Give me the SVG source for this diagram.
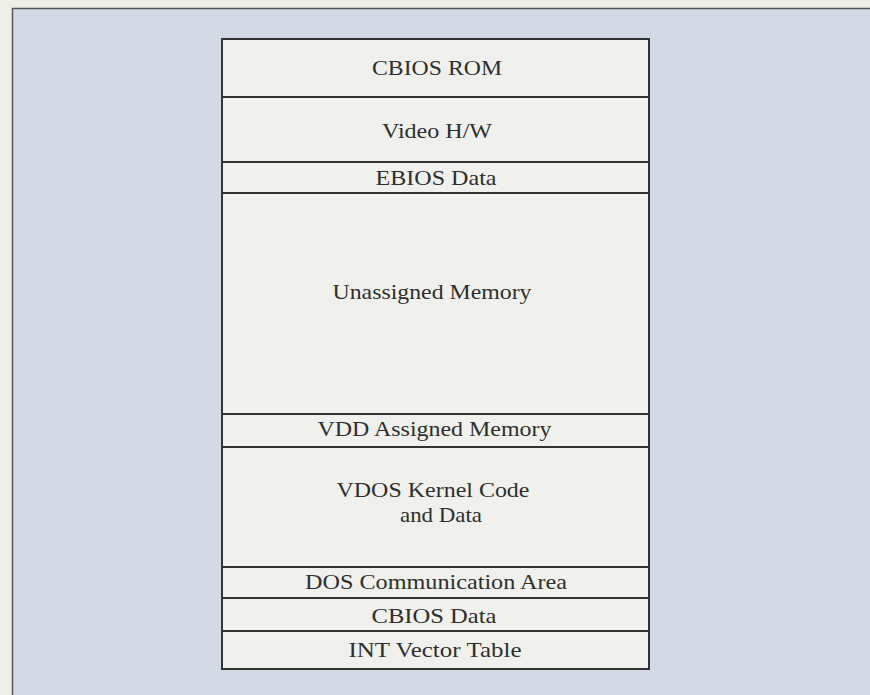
<svg xmlns="http://www.w3.org/2000/svg" width="870" height="695" viewBox="0 0 870 695">
<style>
.cell{fill:#f0f1ec;stroke:#333;stroke-width:2}
.lbl{font-family:"Liberation Serif","Times New Roman",serif;font-size:22px;fill:#2e2e2e;text-anchor:middle}
.sep{stroke:#333;stroke-width:2}
</style>
<rect x="0" y="0" width="870" height="695" fill="#eef0e7"/>
<rect x="12.5" y="8.5" width="870" height="700" fill="#d4d9e6" stroke="#555" stroke-width="1.5"/>
<g id="stack">
<rect class="cell" x="222" y="39" width="427" height="630"/>
</g>
<g id="connectors">
<line class="sep" x1="222" y1="97" x2="649" y2="97"/>
<line class="sep" x1="222" y1="162" x2="649" y2="162"/>
<line class="sep" x1="222" y1="193" x2="649" y2="193"/>
<line class="sep" x1="222" y1="414" x2="649" y2="414"/>
<line class="sep" x1="222" y1="447" x2="649" y2="447"/>
<line class="sep" x1="222" y1="567" x2="649" y2="567"/>
<line class="sep" x1="222" y1="598" x2="649" y2="598"/>
<line class="sep" x1="222" y1="631" x2="649" y2="631"/>
</g>
<g id="cbios-rom"><text class="lbl" x="437" y="75" textLength="130" lengthAdjust="spacingAndGlyphs">CBIOS ROM</text></g>
<g id="video-hw"><text class="lbl" x="437" y="138" textLength="110" lengthAdjust="spacingAndGlyphs">Video H/W</text></g>
<g id="ebios-data"><text class="lbl" x="436" y="185" textLength="121" lengthAdjust="spacingAndGlyphs">EBIOS Data</text></g>
<g id="unassigned"><text class="lbl" x="432" y="299" textLength="199" lengthAdjust="spacingAndGlyphs">Unassigned Memory</text></g>
<g id="vdd-assigned"><text class="lbl" x="434.5" y="436" textLength="234" lengthAdjust="spacingAndGlyphs">VDD Assigned Memory</text></g>
<g id="vdos-kernel">
<text class="lbl" x="433" y="497" textLength="193" lengthAdjust="spacingAndGlyphs">VDOS Kernel Code</text>
<text class="lbl" x="441" y="522" textLength="82" lengthAdjust="spacingAndGlyphs">and Data</text>
</g>
<g id="dos-comm"><text class="lbl" x="436" y="589" textLength="262" lengthAdjust="spacingAndGlyphs">DOS Communication Area</text></g>
<g id="cbios-data"><text class="lbl" x="434" y="623" textLength="125" lengthAdjust="spacingAndGlyphs">CBIOS Data</text></g>
<g id="int-vector"><text class="lbl" x="435" y="657" textLength="173" lengthAdjust="spacingAndGlyphs">INT Vector Table</text></g>
</svg>
